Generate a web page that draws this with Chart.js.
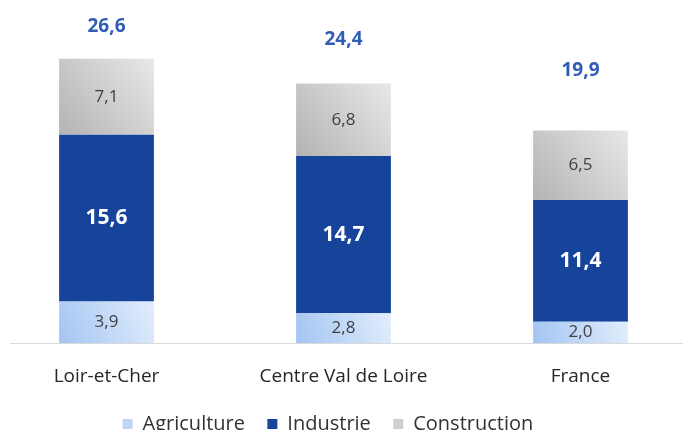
<!DOCTYPE html>
<html>
<head>
<meta charset="utf-8">
<script src="https://cdn.jsdelivr.net/npm/chart.js@4"></script>
<style>
  html, body { margin: 0; padding: 0; background: #fff; overflow: hidden; }
  #clip { width: 683px; height: 430px; overflow: hidden; position: relative; }
  #wrap { position: absolute; left: -12px; top: 0; width: 711px; height: 444px; }
</style>
</head>
<body>
<div id="clip"><div id="wrap"><canvas id="chart" width="711" height="444"></canvas></div></div>
<script>
// Data
const categories = ['Loir-et-Cher', 'Centre Val de Loire', 'France'];
const agriculture = [3.9, 2.8, 2.0];
const industrie = [15.6, 14.7, 11.4];
const construction = [7.1, 6.8, 6.5];
const totals = [26.6, 24.4, 19.9];

// how far above each bar the total sits (px)
const totalLift = [32, 44, 60];

const FONT = '"Open Sans", sans-serif';
const fmt = v => v.toFixed(1).replace('.', ',');

// diagonal gradient for one bar, worked out from the scales
function barGradient(c0, c1) {
  return function (context) {
    const chart = context.chart;
    const xs = chart.scales.x, ys = chart.scales.y;
    if (!xs || !ys || context.type !== 'data') return c1;
    const x = xs.getPixelForValue(context.dataIndex);
    const half = (xs.width / categories.length) * 0.4 / 2;
    // stacked start/end
    let start = 0;
    for (let d = 0; d < context.datasetIndex; d++) start += chart.data.datasets[d].data[context.dataIndex];
    const end = start + context.raw;
    const g = chart.ctx.createLinearGradient(x - half, ys.getPixelForValue(start), x + half, ys.getPixelForValue(end));
    g.addColorStop(0, c0);
    g.addColorStop(1, c1);
    return g;
  };
}

const labelsPlugin = {
  id: 'labelsPlugin',
  afterDatasetsDraw(chart) {
    const ctx = chart.ctx;
    const y0 = chart.scales.y.getPixelForValue(0);
    // baseline
    ctx.save();
    ctx.strokeStyle = '#d9d9d9';
    ctx.lineWidth = 1;
    ctx.beginPath();
    ctx.moveTo(22, Math.round(y0) + 0.5);
    ctx.lineTo(chart.width, Math.round(y0) + 0.5);
    ctx.stroke();

    ctx.textAlign = 'center';
    ctx.textBaseline = 'middle';
    chart.data.datasets.forEach((ds, i) => {
      chart.getDatasetMeta(i).data.forEach((bar, j) => {
        const c = bar.getCenterPoint();
        if (i === 1) {
          ctx.font = 'bold 21px ' + FONT;
          ctx.fillStyle = '#ffffff';
        } else {
          ctx.font = '17px ' + FONT;
          ctx.fillStyle = '#404040';
        }
        ctx.fillText(fmt(ds.data[j]), c.x, c.y);
      });
    });
    // totals above the stacks
    const top = chart.getDatasetMeta(2).data;
    ctx.font = 'bold 19px ' + FONT;
    ctx.fillStyle = '#2f5cb6';
    totals.forEach((t, j) => {
      ctx.fillText(fmt(t), top[j].x, top[j].y - totalLift[j]);
    });
    ctx.restore();
  }
};

new Chart(document.getElementById('chart'), {
  type: 'bar',
  data: {
    labels: categories,
    datasets: [
      { label: 'Agriculture', data: agriculture, backgroundColor: barGradient('#a3c5f2', '#e2edfc') },
      { label: 'Industrie', data: industrie, backgroundColor: '#17449b' },
      { label: 'Construction', data: construction, backgroundColor: barGradient('#b3b3b3', '#e8e8e8') }
    ]
  },
  options: {
    responsive: false,
    animation: false,
    events: [],
    barPercentage: 0.4,
    categoryPercentage: 1,
    layout: { padding: 0 },
    plugins: {
      legend: {
        position: 'bottom',
        labels: {
          boxWidth: 10,
          boxHeight: 10,
          padding: 12,
          color: '#333',
          font: { family: FONT, size: 20 },
          generateLabels(chart) {
            const cols = ['#bcd5f5', '#17449b', '#cfcfcf'];
            const n = chart.data.datasets.length;
            return chart.data.datasets.map((ds, i) => ({
              // spaces open up the gaps; the trailing ones nudge the row left
              text: i < n - 1 ? ds.label + '  ' : ds.label + '      ',
              fillStyle: cols[i], strokeStyle: cols[i], lineWidth: 0,
              datasetIndex: i, fontColor: '#333'
            }));
          }
        }
      },
      tooltip: { enabled: false }
    },
    scales: {
      x: {
        stacked: true,
        grid: { display: false },
        border: { display: false },
        ticks: { color: '#262626', padding: 14, font: { family: FONT, size: 19 } }
      },
      y: {
        stacked: true,
        display: false,
        min: 0,
        max: 32.1
      }
    }
  },
  plugins: [labelsPlugin]
});
</script>
</body>
</html>
